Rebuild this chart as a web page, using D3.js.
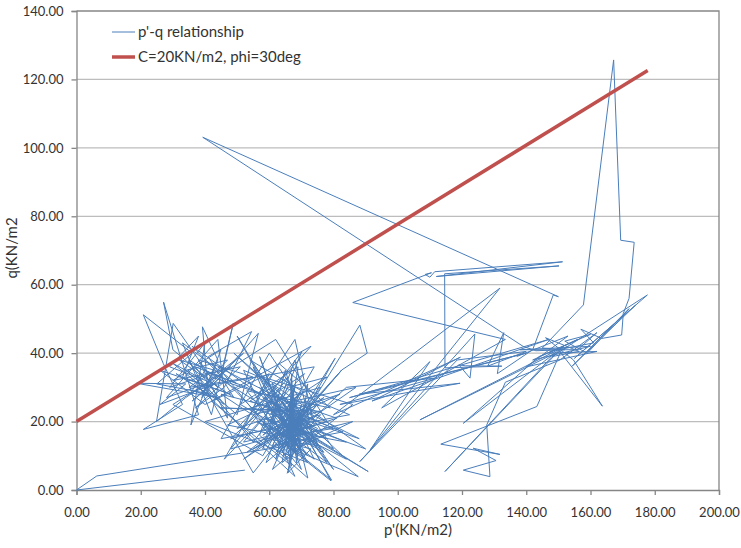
<!DOCTYPE html>
<html>
<head>
<meta charset="utf-8">
<script src="https://cdn.jsdelivr.net/npm/d3@7"></script>
<style>
  body { margin: 0; background: #fff; }
  svg text { font-family: Lato, "Noto Sans", sans-serif; fill: #333; }
</style>
</head>
<body>
<svg id="chart" width="741" height="548"></svg>
<script>
// axis ticks
var xTicks = [0, 20, 40, 60, 80, 100, 120, 140, 160, 180, 200];
var yTicks = [0, 20, 40, 60, 80, 100, 120, 140];

var seriesNames = ["p'-q relationship", "C=20KN/m2, phi=30deg"];

// failure envelope, C=20, phi=30
var failP = [0, 177.8];
var failQ = [20, 122.6];

// p'-q stress path (p', q)
var pqPath = [
  [52.4,5.8],[0,0],[6.3,4.1],[64.4,12.7],[58,20],[66,15],[45,28],[70,22],[62,9],[68,30],[55,14],
  [38,33],[30,37],[42,28],[25,31],[36,40],[20.8,51.2],[27,37],[33,25],[20.8,17.7],[38,22],
  [27.1,54.9],[30,41],[44,30],[30.1,48.7],[24.9,20],[34,27],[48,36],[29,30],[40,43],[35.6,19],
  [44,38],[39.2,47.7],[41,28],[31,34],[46,25],[37,36],[50,31],[33,43],[42,22],[48.8,48.7],
  [45,33],[36,26],[52,40],[40,31],[28,27],[44,44],[47,21],[38,38],[55,33],[35,30],
  [43,35],[32,38],[49,27],[41,39],[54.5,46.3],[46,30],[37,24],[51,36],[30,32],[45,41],
  [39,27],[56.6,45.8],[50,22],[34,35],[47,38],[42,33],[58,28],[40,35],[36,29],[44,27],
  [18.7,31.2],[34,31],[26,25],[43,31],[29,36],[38,45],[33,33],[48,28],[26,35],[40,25],
  [60,34],[52,18],[70.1,40.4],[58,12],[63,28],[48,15],[68,20],[80.5,38.5],[64,11],[72,26],
  [55,22],[66,9],[75,18],[62,24],[69,13],[57,30],[71,16],[65,35],[60,17],[79.2,2.7],
  [68,22],[53,11],[73,21],[64,19],[76,12],[67,27],[59,8],[70,17],[63,14],[82.6,35.1],
  [66,18],[72,10],[61,20],[68,38],[74,14],[65,22],[58,16],[71,24],[67,12],[87.7,3.9],
  [69,18],[62,11],[75,25],[66,16],[56,20],[70,13],[64,26],[78,8],[68,15],[60,12],
  [73,19],[67,20],[52,9],[71,21],[65,13],[88.2,48.2],[90.5,40],[82.6,35.1],[68,19],[63,16],
  [77,27],[69,23],[61,6],[72,15],[66,21],[84,14],[67,17],[59,25],[70,11],[65,19],
  [76,22],[68,14],[62,18],[74,9],[66,24],[80,18],[67,16],[58,27],[72,20],[65,10],
  [69,28],[63,21],[90.8,5.4],[71,17],[66,13],[79.4,2.9],[68,21],[60,15],[73,12],[65.6,4.9],
  [70,19],[64,23],[78,15],[67,18],[55,12],[72,23],[66,11],[86,20],[69,16],[62,22],
  [75,13],[67,14],[65.9,5.1],[70,25],[68,17],
  [50,45],[72,8],[40,20],[76,30],[55,5],[35,38],[80,12],[60,40],[45,15],[85,22],
  [52,35],[68,4],[38,30],[74,36],[58,10],[30,25],[62,44],[78,20],[48,12],[66,33],
  [54,26],[88,15],[44,36],[70,6],[57,39],[64,20],[82,28],[50,18],[73,42],[42,26],
  [67,7],[61,31],[90,12],[55,24],[71,34],[46,9],[63,37],[79,24],[53,29],[68,11],
  [36,42],[75,16],[59,21],[84,9],[49,40],[66,26],[72,3.5],[57,16],[62,30],[77,11],
  [51,25],[69,36],[64,8],[86,25],[58,33],[73,14],[47,19],[65,27],[80,6],[54,38],
  [70,29],[61,13],[83,17],[56,27],[68,44],[74,19],[52,14],[66,30],[78,33],[60,22],
  [71,9],[55,36],[64,15],[87,30],[63,25],[69,10],[58,19],[76,23],[45,24],[67,23],
  [67,34],[66,12],[67.5,30],[66.5,9],[68,27],[66,14],[67,32],[67.8,11],[66.8,26],[68.5,8],
  [72,31],[62,15],[81,21],[59,28],[70,14],[65,17],[68,25],[66,19],[69,21],[67,15],
  [84,30],[111.6,32.7],[82,25],[119.4,31.2],[88,28],
  [140,40],[85,27],[147,44],[92,26],[119.5,38.8],[80,22],[131.8,59],[91.4,11.7],[110,37.5],[95,24],
  [133.5,44],[86,54.8],[110.5,63.5],[108.5,63],[110,62.2],[111.5,63.8],[151.3,66.7],[112,62.4],[150.2,65.5],[114.6,63.2],
  [114.7,35.7],[132.4,36.2],[121,36.3],[119,36.6],[122.5,32.7],[124,45.6],[88.2,8.3],[118.5,38],[140,40.5],[128,36.2],
  [133,46],[131,34],[142,41],[148.4,57],[150,56.5],[39.3,103.1],[139,42],[143,40.7],[152,41],[145,41.5],
  [157.8,54.1],[167.2,125.7],[169.4,73],[173.6,72.4],[172,56],[170.2,51.6],[169.7,45.3],[163.5,44.3],[157,47],[161,43],
  [150,41],[163.7,24.5],[154.7,38],[146,44.5],[156.5,40.5],[148,39],[177.7,57],[155,38.5],[174,54],[154.3,36.2],
  [172,53],[159,40],[152,43.5],[160,45.5],[144,39],[120.4,19.5],[151,41.5],[106.9,20.5],[149,40],[114.7,5.4],
  [151.5,42],[143.3,24.4],[113.4,13.4],[131.8,10.4],[123.5,12.2],[130.6,8.6],[120.4,5.8],[128.7,3.9],[127.7,19],[133.5,31.5],
  [150.5,38],[162,46],[156,41],[138,41],[160,42],[142,38],[156,44],[147,40],[162,40.5],[140,36],
  [153,45],[137,39]
];

var svg = d3.select("#chart");
var margin = {left: 76.5, right: 22, top: 11, bottom: 58};
var width = 741 - margin.left - margin.right;
var height = 548 - margin.top - margin.bottom;

var x = d3.scaleLinear().domain([0, 200]).range([margin.left, margin.left + width]);
var y = d3.scaleLinear().domain([0, 140]).range([margin.top + height, margin.top]);

// horizontal grid
svg.append("g").selectAll("line").data(yTicks.slice(1, -1)).enter().append("line")
	.attr("x1", x(0)).attr("x2", x(200))
	.attr("y1", function(d){ return y(d); }).attr("y2", function(d){ return y(d); })
	.attr("stroke", "#bdbdbd").attr("stroke-width", 1.3);

// plot border (top + right)
svg.append("path")
	.attr("d", "M" + x(0) + "," + y(140) + "H" + x(200) + "V" + y(0))
	.attr("fill", "none").attr("stroke", "#868686").attr("stroke-width", 1.3);

var xAxis = d3.axisBottom(x).tickValues(xTicks).tickSize(5).tickFormat(d3.format(".2f"));
var yAxis = d3.axisLeft(y).tickValues(yTicks).tickSize(5).tickFormat(d3.format(".2f"));

var gx = svg.append("g").attr("transform", "translate(0," + y(0) + ")").call(xAxis);
var gy = svg.append("g").attr("transform", "translate(" + x(0) + ",0)").call(yAxis);

[gx, gy].forEach(function(g){
	g.select(".domain").attr("stroke", "#868686").attr("stroke-width", 1.3);
	g.selectAll(".tick line").attr("stroke", "#868686").attr("stroke-width", 1.3);
	g.selectAll(".tick text").attr("fill", "#333").style("font-size", "13px")
		.style("font-family", "Lato, 'Noto Sans', sans-serif");
});
gx.selectAll(".tick text").attr("y", 18);
gy.selectAll(".tick text").attr("x", -13);

// stress path
var line = d3.line()
	.x(function(d){ return x(d[0]); })
	.y(function(d){ return y(d[1]); });

svg.append("path").datum(pqPath)
	.attr("d", line)
	.attr("fill", "none")
	.attr("stroke", "#4a7ebb")
	.attr("stroke-width", 1)
	.attr("stroke-linejoin", "round");

// failure line on top
var failPts = failP.map(function(p, i){ return [p, failQ[i]]; });
svg.append("path").datum(failPts)
	.attr("d", line)
	.attr("fill", "none")
	.attr("stroke", "#c0504d")
	.attr("stroke-width", 3.5);

// legend
var legend = svg.append("g");
var legColors = ["#4a7ebb", "#c0504d"];
var legWidths = [1, 3.5];
seriesNames.forEach(function(name, i){
	var ly = 32 + i * 25;
	legend.append("line")
		.attr("x1", 112).attr("x2", 135).attr("y1", ly).attr("y2", ly)
		.attr("stroke", legColors[i]).attr("stroke-width", legWidths[i]);
	legend.append("text")
		.attr("x", 138).attr("y", ly + 5)
		.style("font-size", "15px")
		.text(name);
});

// axis titles
svg.append("text")
	.attr("x", 418).attr("y", 535)
	.attr("text-anchor", "middle")
	.style("font-size", "15px")
	.text("p'(KN/m2)");

svg.append("text")
	.attr("transform", "translate(17,248) rotate(-90)")
	.attr("text-anchor", "middle")
	.style("font-size", "15px")
	.text("q(KN/m2");
</script>
</body>
</html>
